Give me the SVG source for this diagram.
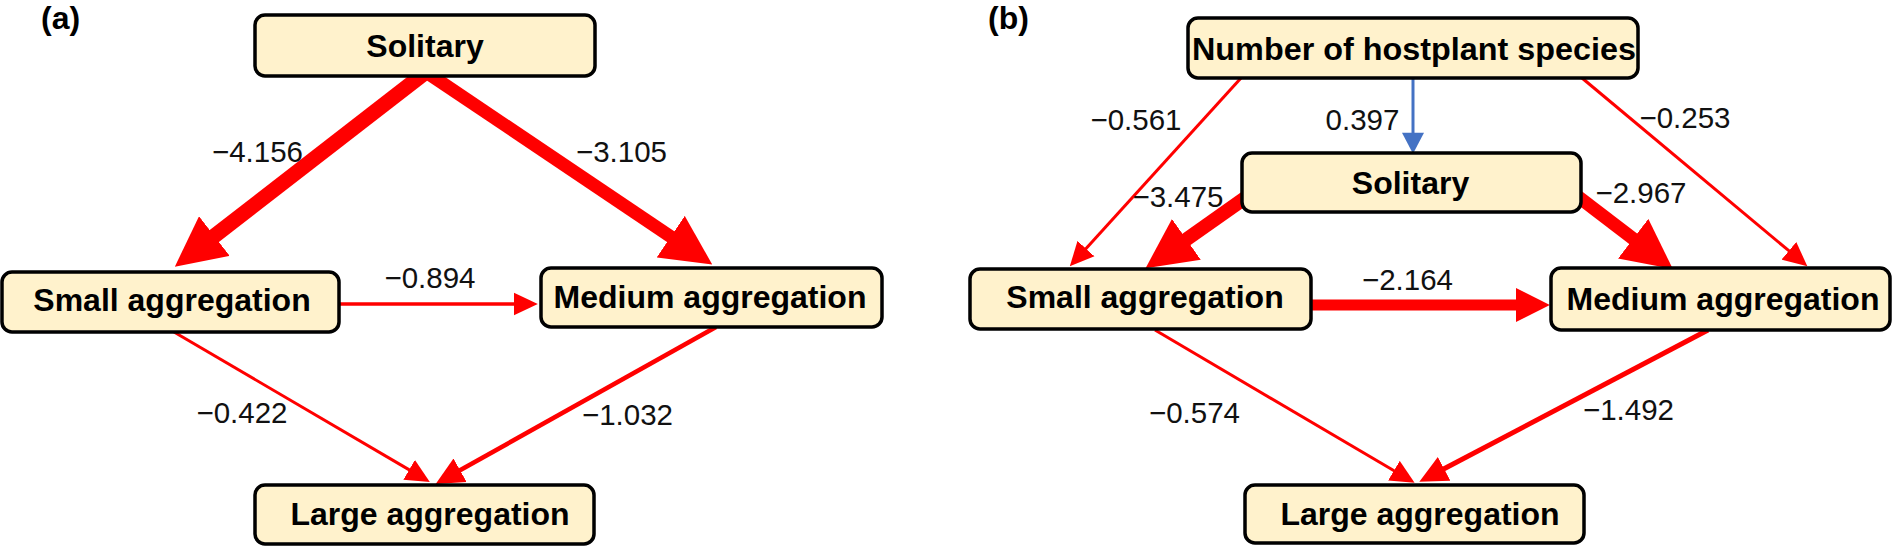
<svg xmlns="http://www.w3.org/2000/svg" width="1892" height="546" viewBox="0 0 1892 546">
  <style>
    .box { fill: #FFF2CC; stroke: #000000; stroke-width: 3.5; }
    .nt { font-family: "Liberation Sans", Arial, sans-serif; font-weight: bold; font-size: 32px; fill: #000; text-anchor: middle; }
    .lab { font-family: "Liberation Sans", Arial, sans-serif; font-size: 29.5px; fill: #111; text-anchor: middle; }
    .pan { font-family: "Liberation Sans", Arial, sans-serif; font-weight: bold; font-size: 32px; fill: #000; }
    .r { stroke: #FF0000; fill: none; stroke-linecap: butt; }
    .b { stroke: #4472C4; fill: none; }
  </style>
  <defs>
    <marker id="big" markerUnits="userSpaceOnUse" markerWidth="50" markerHeight="50" viewBox="0 0 48 48" refX="2" refY="24" orient="auto">
      <path d="M0,0 L48,24 L0,48 z" fill="#FF0000"/>
    </marker>
    <marker id="mid" markerUnits="userSpaceOnUse" markerWidth="34" markerHeight="34" viewBox="0 0 32 32" refX="2" refY="16" orient="auto">
      <path d="M0,0 L32,16 L0,32 z" fill="#FF0000"/>
    </marker>
    <marker id="med" markerUnits="userSpaceOnUse" markerWidth="28" markerHeight="28" viewBox="0 0 26 25" refX="2" refY="12.5" orient="auto">
      <path d="M0,0 L26,12.5 L0,25 z" fill="#FF0000"/>
    </marker>
    <marker id="sm" markerUnits="userSpaceOnUse" markerWidth="24" markerHeight="24" viewBox="0 0 22 21" refX="2" refY="10.5" orient="auto">
      <path d="M0,0 L22,10.5 L0,21 z" fill="#FF0000"/>
    </marker>
    <marker id="bl" markerUnits="userSpaceOnUse" markerWidth="22" markerHeight="22" viewBox="0 0 19 20" refX="2" refY="10" orient="auto">
      <path d="M0,0 L19,10 L0,20 z" fill="#4472C4"/>
    </marker>
  </defs>

  <text class="pan" x="41" y="29">(a)</text>
  <text class="pan" x="988" y="29">(b)</text>

  <g id="connectors">
    <!-- panel a -->
    <line class="r" x1="426" y1="72" x2="212.7" y2="237.3" stroke-width="15" marker-end="url(#big)"/>
    <line class="r" x1="426" y1="72" x2="672.5" y2="237.8" stroke-width="13" marker-end="url(#big)"/>
    <line class="r" x1="339" y1="304" x2="516" y2="304" stroke-width="3.5" marker-end="url(#sm)"/>
    <line class="r" x1="174" y1="332" x2="411" y2="470.9" stroke-width="3" marker-end="url(#sm)"/>
    <line class="r" x1="716" y1="327" x2="458.2" y2="471.3" stroke-width="4.5" marker-end="url(#med)"/>
    <!-- panel b -->
    <line class="r" x1="1241" y1="78" x2="1084.5" y2="250.2" stroke-width="3" marker-end="url(#sm)"/>
    <line class="b" x1="1413" y1="78" x2="1413" y2="135" stroke-width="3" marker-end="url(#bl)"/>
    <line class="r" x1="1582" y1="78" x2="1790.6" y2="252.2" stroke-width="3" marker-end="url(#sm)"/>
    <line class="r" x1="1255" y1="191" x2="1184.7" y2="240.6" stroke-width="14" marker-end="url(#big)"/>
    <line class="r" x1="1572" y1="192" x2="1634.8" y2="240" stroke-width="13" marker-end="url(#big)"/>
    <line class="r" x1="1311" y1="305" x2="1518" y2="305" stroke-width="11" marker-end="url(#mid)"/>
    <line class="r" x1="1155" y1="330" x2="1395.8" y2="471.8" stroke-width="3" marker-end="url(#sm)"/>
    <line class="r" x1="1708" y1="330" x2="1442.2" y2="469.8" stroke-width="5" marker-end="url(#med)"/>
  </g>

  <g id="labels">
    <text class="lab" x="257.5" y="162">−4.156</text>
    <text class="lab" x="621.5" y="162">−3.105</text>
    <text class="lab" x="430" y="288">−0.894</text>
    <text class="lab" x="242" y="423">−0.422</text>
    <text class="lab" x="627.5" y="425">−1.032</text>
    <text class="lab" x="1136" y="130">−0.561</text>
    <text class="lab" x="1362.5" y="130">0.397</text>
    <text class="lab" x="1685" y="128">−0.253</text>
    <text class="lab" x="1178" y="207">−3.475</text>
    <text class="lab" x="1641" y="203">−2.967</text>
    <text class="lab" x="1407.5" y="290">−2.164</text>
    <text class="lab" x="1194.5" y="423">−0.574</text>
    <text class="lab" x="1628.5" y="420">−1.492</text>
  </g>

  <g id="a-solitary">
    <rect class="box" x="255" y="15" width="340" height="61" rx="10"/>
    <text class="nt" x="425" y="57">Solitary</text>
  </g>
  <g id="a-small">
    <rect class="box" x="2" y="272" width="337" height="60" rx="10"/>
    <text class="nt" x="172" y="311">Small aggregation</text>
  </g>
  <g id="a-medium">
    <rect class="box" x="541" y="268" width="341" height="59" rx="10"/>
    <text class="nt" x="710" y="308">Medium aggregation</text>
  </g>
  <g id="a-large">
    <rect class="box" x="255" y="485" width="339" height="59" rx="10"/>
    <text class="nt" x="430" y="525">Large aggregation</text>
  </g>

  <g id="b-hostplant">
    <rect class="box" x="1188" y="18" width="450" height="60" rx="10"/>
    <text class="nt" x="1414" y="60" textLength="444" lengthAdjust="spacingAndGlyphs">Number of hostplant species</text>
  </g>
  <g id="b-solitary">
    <rect class="box" x="1242" y="153" width="339" height="59" rx="10"/>
    <text class="nt" x="1410.5" y="194">Solitary</text>
  </g>
  <g id="b-small">
    <rect class="box" x="970" y="269" width="341" height="60" rx="10"/>
    <text class="nt" x="1145" y="308">Small aggregation</text>
  </g>
  <g id="b-medium">
    <rect class="box" x="1551" y="268" width="339" height="62" rx="10"/>
    <text class="nt" x="1723" y="310">Medium aggregation</text>
  </g>
  <g id="b-large">
    <rect class="box" x="1245" y="485" width="339" height="58" rx="10"/>
    <text class="nt" x="1420" y="525">Large aggregation</text>
  </g>
</svg>
